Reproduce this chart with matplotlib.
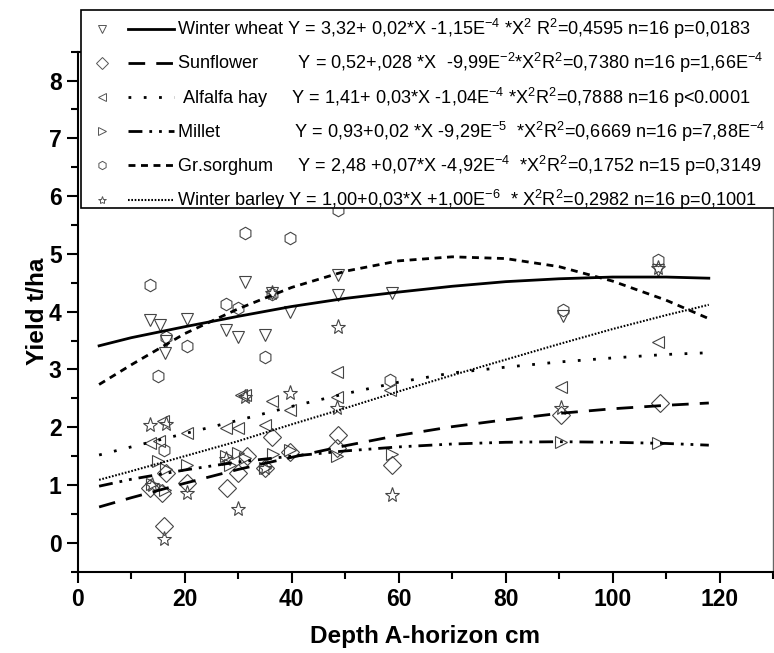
import matplotlib
matplotlib.use("Agg")
import matplotlib.pyplot as plt
from matplotlib.lines import Line2D
from matplotlib.patches import Rectangle
from matplotlib.legend_handler import HandlerBase
from matplotlib.ticker import MultipleLocator

plt.rcParams["font.family"] = ["Liberation Sans", "DejaVu Sans"]
plt.rcParams["mathtext.fontset"] = "custom"
plt.rcParams["mathtext.rm"] = "Liberation Sans"
plt.rcParams["mathtext.default"] = "regular"

# scatter data (depth cm, yield t/ha)
wheat_x = [13.5, 15.3, 16.3, 16.6, 20.4, 27.8, 30.0, 31.3, 35.0, 36.3, 39.7, 48.7, 48.7, 58.7, 90.8, 108.5]
wheat_y = [3.86, 3.77, 3.28, 3.50, 3.87, 3.68, 3.57, 4.52, 3.60, 4.32, 4.00, 4.63, 4.29, 4.32, 3.93, 4.72]

sunflower_x = [13.5, 15.7, 16.2, 16.6, 20.4, 28.0, 30.0, 31.6, 35.0, 36.3, 39.7, 48.4, 48.7, 58.7, 90.4, 108.8]
sunflower_y = [0.95, 0.86, 0.29, 1.21, 1.04, 0.95, 1.21, 1.50, 1.30, 1.84, 1.58, 1.64, 1.87, 1.35, 2.22, 2.42]

alfalfa_x = [13.5, 15.2, 16.0, 20.4, 27.8, 30.0, 30.5, 31.3, 35.0, 36.3, 39.7, 48.4, 48.4, 58.4, 90.4, 108.5]
alfalfa_y = [1.73, 1.76, 2.10, 1.90, 1.99, 1.99, 2.55, 2.56, 2.04, 2.45, 2.30, 2.96, 2.53, 2.65, 2.70, 3.48]

millet_x = [13.8, 15.0, 16.3, 16.6, 20.4, 27.8, 28.5, 30.0, 31.3, 35.0, 36.6, 39.7, 48.4, 58.7, 90.4, 108.5]
millet_y = [1.01, 1.41, 0.92, 1.27, 1.35, 1.50, 1.35, 1.55, 1.47, 1.30, 1.53, 1.61, 1.50, 1.53, 1.75, 1.73]

sorghum_x = [13.5, 15.1, 16.2, 16.6, 20.4, 27.8, 30.0, 31.3, 35.0, 36.3, 39.7, 48.7, 58.4, 90.8, 108.5]
sorghum_y = [4.46, 2.88, 1.61, 3.57, 3.40, 4.14, 4.06, 5.37, 3.21, 4.30, 5.27, 5.76, 2.82, 4.03, 4.90]

barley_x = [13.5, 13.8, 16.2, 16.6, 20.4, 27.8, 30.0, 31.3, 35.0, 36.3, 39.7, 48.4, 48.7, 58.7, 90.4, 108.5]
barley_y = [2.04, 1.00, 0.06, 2.06, 0.86, 1.45, 0.58, 2.53, 1.30, 4.32, 2.59, 2.33, 3.74, 0.83, 2.33, 4.75]

# fitted curves
curve_x = [4, 10, 20, 30, 40, 50, 60, 70, 80, 90, 100, 110, 118]
wheat_fit = [3.41, 3.55, 3.74, 3.92, 4.09, 4.23, 4.34, 4.44, 4.52, 4.57, 4.60, 4.60, 4.58]
sunflower_fit = [0.62, 0.78, 1.03, 1.27, 1.48, 1.68, 1.86, 2.01, 2.13, 2.24, 2.32, 2.38, 2.42]
alfalfa_fit = [1.52, 1.66, 1.89, 2.12, 2.36, 2.58, 2.78, 2.94, 3.04, 3.13, 3.20, 3.26, 3.29]
millet_fit = [0.98, 1.10, 1.26, 1.40, 1.50, 1.59, 1.66, 1.71, 1.74, 1.75, 1.74, 1.72, 1.69]
sorghum_fit = [2.74, 3.08, 3.62, 4.05, 4.42, 4.70, 4.88, 4.95, 4.92, 4.78, 4.53, 4.20, 3.88]
barley_fit = [1.09, 1.24, 1.50, 1.76, 2.05, 2.33, 2.62, 2.90, 3.17, 3.44, 3.70, 3.94, 4.12]

labels = [
    "Winter wheat Y = 3,32+ 0,02*X -1,15E$^{-4}$ *X$^{2}$ R$^{2}$=0,4595 n=16 p=0,0183",
    "Sunflower        Y = 0,52+,028 *X  -9,99E$^{-2}$*X$^{2}$R$^{2}$=0,7380 n=16 p=1,66E$^{-4}$",
    " Alfalfa hay     Y = 1,41+ 0,03*X -1,04E$^{-4}$ *X$^{2}$R$^{2}$=0,7888 n=16 p<0.0001",
    "Millet               Y = 0,93+0,02 *X -9,29E$^{-5}$  *X$^{2}$R$^{2}$=0,6669 n=16 p=7,88E$^{-4}$",
    "Gr.sorghum     Y = 2,48 +0,07*X -4,92E$^{-4}$  *X$^{2}$R$^{2}$=0,1752 n=15 p=0,3149",
    "Winter barley Y = 1,00+0,03*X +1,00E$^{-6}$  * X$^{2}$R$^{2}$=0,2982 n=16 p=0,1001",
]

series = [
    (wheat_x, wheat_y, wheat_fit, "v", "-"),
    (sunflower_x, sunflower_y, sunflower_fit, "D", (0, (6, 4))),
    (alfalfa_x, alfalfa_y, alfalfa_fit, "<", (0, (1, 4.5))),
    (millet_x, millet_y, millet_fit, ">", (0, (5, 2.5, 1, 2.5, 1, 2.5))),
    (sorghum_x, sorghum_y, sorghum_fit, "h", (0, (2.5, 2))),
    (barley_x, barley_y, barley_fit, "*", (0, (0.8, 0.8))),
]


class MarkerAndLine(HandlerBase):
    # small open marker on the left, line sample on the right
    def create_artists(self, legend, orig_handle, xdescent, ydescent,
                       width, height, fontsize, trans):
        mk, ln = orig_handle
        y = (height - ydescent) / 2.0
        m = Line2D([-xdescent + 0.16 * width], [y], linestyle="none",
                   marker=mk.get_marker(), markersize=6,
                   markerfacecolor="none", markeredgecolor="#555555",
                   markeredgewidth=0.7)
        l = Line2D([-xdescent + 0.47 * width, width - xdescent], [y, y])
        l.update_from(ln)
        m.set_transform(trans)
        l.set_transform(trans)
        return [l, m]


fig = plt.figure(figsize=(7.74, 6.53), dpi=100)
ax = fig.add_axes([0.1004, 0.1245, 0.8983, 0.7963])

handles = []
for xs, ys, fit, mk, ls in series:
    lw = 1.5 if mk == "*" else 2.0
    ax.plot(curve_x, fit, color="black", linestyle=ls, linewidth=lw, zorder=3)
    ax.plot(xs, ys, linestyle="none", marker=mk,
            markersize=11 if mk == "*" else 9,
            markerfacecolor="none", markeredgecolor="#444444",
            markeredgewidth=0.8, zorder=2)
    h_mk = Line2D([], [], marker=mk, linestyle="none")
    h_ln = Line2D([], [], color="black", linestyle=ls, linewidth=lw)
    handles.append((h_mk, h_ln))

ax.set_xlim(0, 130)
ax.set_ylim(-0.5, 8.5)
ax.set_xticks([0, 20, 40, 60, 80, 100, 120])
ax.set_yticks(range(0, 9))
ax.xaxis.set_minor_locator(MultipleLocator(10))
ax.yaxis.set_minor_locator(MultipleLocator(0.5))
ax.tick_params(which="major", direction="out", length=8, width=1.5,
               labelsize=16.5, top=False, right=False)
ax.tick_params(which="minor", direction="out", length=5, width=1.5,
               top=False, right=False)
for lab in ax.get_xticklabels() + ax.get_yticklabels():
    lab.set_fontweight("bold")
for sp in ax.spines.values():
    sp.set_linewidth(1.5)
ax.spines["right"].set_color("#666666")
ax.spines["right"].set_linewidth(1.0)

ax.set_xlabel("Depth A-horizon cm", fontsize=17.5, fontweight="bold", labelpad=10)
ax.set_ylabel("Yield t/ha", fontsize=17.5, fontweight="bold", labelpad=0)

# legend frame drawn by hand so the box can be tighter at the bottom
frame = Rectangle((81 / 774, 1 - 208 / 653), 0.95, 198 / 653,
                  transform=fig.transFigure, facecolor="white",
                  edgecolor="black", linewidth=1.2, zorder=5)
fig.patches.append(frame)

leg = fig.legend(handles, labels, handler_map={tuple: MarkerAndLine()},
                 loc="upper left", bbox_to_anchor=(81 / 774, 1 - 10 / 653),
                 borderaxespad=0, fontsize=13.1, handlelength=4.7,
                 handletextpad=0.15, borderpad=0.4, labelspacing=0.55,
                 frameon=False)
leg.set_zorder(10)

plt.savefig("out.png", dpi=100)
plt.close()
